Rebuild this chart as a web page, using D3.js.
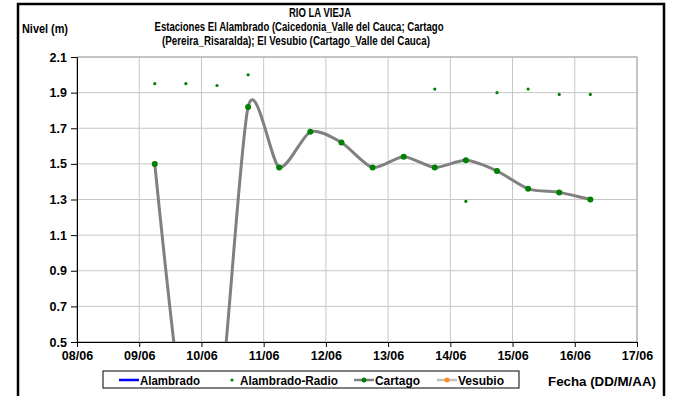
<!DOCTYPE html>
<html>
<head>
<meta charset="utf-8">
<script src="https://cdn.jsdelivr.net/npm/d3@7/dist/d3.min.js"></script>
<style>
  body { margin: 0; background: #fff; }
  text { font-family: "Liberation Sans", Arial, sans-serif; font-weight: bold; }
</style>
</head>
<body>
<script>
// datos (nivel en metros)
const fechasCartago = ['09/06 06', '09/06 18', '10/06 06', '10/06 18', '11/06 06', '11/06 18', '12/06 06', '12/06 18',
                       '13/06 06', '13/06 18', '14/06 06', '14/06 18', '15/06 06', '15/06 18', '16/06 06'];
const nivelCartago = [1.50, 0.0, 0.0, 1.82, 1.48, 1.68, 1.62, 1.48, 1.54, 1.48, 1.52, 1.46, 1.36, 1.34, 1.30];

const fechasRadio = ['09/06 06', '09/06 18', '10/06 06', '10/06 18', '13/06 18', '14/06 06', '14/06 18', '15/06 06', '15/06 18', '16/06 06'];
const nivelRadio = [1.95, 1.95, 1.94, 2.00, 1.92, 1.29, 1.90, 1.92, 1.89, 1.89];

// sin datos en el periodo
const fechasAlambrado = [];
const nivelAlambrado = [];
const fechasVesubio = [];
const nivelVesubio = [];

const yTicks = [0.5, 0.7, 0.9, 1.1, 1.3, 1.5, 1.7, 1.9, 2.1];
const xTicks = ['08/06', '09/06', '10/06', '11/06', '12/06', '13/06', '14/06', '15/06', '16/06', '17/06'];
const series = ['Alambrado', 'Alambrado-Radio', 'Cartago', 'Vesubio'];

const svgW = 677;
const svgH = 396;
const margin = { top: 57, right: 40, bottom: 54, left: 77 };
const w = svgW - margin.left - margin.right;
const h = svgH - margin.top - margin.bottom;

const parse = d3.timeParse('%d/%m %H');
const parseDay = d3.timeParse('%d/%m');

const svg = d3.select('body').append('svg')
  .attr('width', svgW)
  .attr('height', svgH);

// marco exterior
svg.append('rect')
  .attr('x', 18).attr('y', 4)
  .attr('width', 646).attr('height', 420)
  .attr('fill', 'none')
  .attr('stroke', '#000')
  .attr('stroke-width', 2.5);

const x = d3.scaleTime()
  .domain([parseDay(xTicks[0]), parseDay(xTicks[xTicks.length - 1])])
  .range([0, w]);
const y = d3.scaleLinear()
  .domain([yTicks[0], yTicks[yTicks.length - 1]])
  .range([h, 0]);

const g = svg.append('g')
  .attr('transform', `translate(${margin.left}, ${margin.top})`);

g.append('clipPath').attr('id', 'clip')
  .append('rect').attr('width', w).attr('height', h);

// rejilla
g.append('g')
  .selectAll('line')
  .data(xTicks.map(parseDay))
  .enter().append('line')
  .attr('x1', d => x(d)).attr('x2', d => x(d))
  .attr('y1', 0).attr('y2', h)
  .attr('stroke', '#c6c6c6');
g.append('g')
  .selectAll('line')
  .data(yTicks)
  .enter().append('line')
  .attr('x1', 0).attr('x2', w)
  .attr('y1', d => y(d)).attr('y2', d => y(d))
  .attr('stroke', '#c6c6c6');

g.append('rect')
  .attr('width', w).attr('height', h)
  .attr('fill', 'none')
  .attr('stroke', '#a6a6a6');

// ejes
const yAxis = d3.axisLeft(y)
  .tickValues(yTicks)
  .tickFormat(d3.format('.1f'))
  .tickSizeInner(6).tickSizeOuter(0).tickPadding(4);
const xAxis = d3.axisBottom(x)
  .tickValues(xTicks.map(parseDay))
  .tickFormat(d3.timeFormat('%d/%m'))
  .tickSizeInner(5).tickSizeOuter(0).tickPadding(4);

const ya = g.append('g').call(yAxis);
const xa = g.append('g').attr('transform', `translate(0, ${h})`).call(xAxis);
[ya, xa].forEach(a => {
  a.select('.domain').attr('stroke', '#000');
  a.selectAll('.tick line').attr('stroke', '#000');
  a.selectAll('text')
    .attr('fill', '#000')
    .style('font-family', '"Liberation Sans", Arial, sans-serif')
    .style('font-weight', 'bold')
    .style('font-size', '12.5px');
});

// series
const plot = g.append('g').attr('clip-path', 'url(#clip)');

const line = d3.line()
  .x(d => x(d[0]))
  .y(d => y(d[1]))
  .curve(d3.curveCardinal.tension(0.25));

const cartago = fechasCartago.map((f, i) => [parse(f), nivelCartago[i]]);
const radio = fechasRadio.map((f, i) => [parse(f), nivelRadio[i]]);
const alambrado = fechasAlambrado.map((f, i) => [parse(f), nivelAlambrado[i]]);
const vesubio = fechasVesubio.map((f, i) => [parse(f), nivelVesubio[i]]);

plot.append('path').datum(alambrado)
  .attr('d', line).attr('fill', 'none')
  .attr('stroke', '#0000ff').attr('stroke-width', 2.5);

plot.append('path').datum(cartago)
  .attr('d', line).attr('fill', 'none')
  .attr('stroke', '#808080').attr('stroke-width', 3);

plot.selectAll('.pc').data(cartago).enter()
  .append('circle')
  .attr('cx', d => x(d[0])).attr('cy', d => y(d[1]))
  .attr('r', 3).attr('fill', '#008000');

plot.selectAll('.pr').data(radio).enter()
  .append('circle')
  .attr('cx', d => x(d[0])).attr('cy', d => y(d[1]))
  .attr('r', 1.6).attr('fill', '#008000');

plot.append('path').datum(vesubio)
  .attr('d', line).attr('fill', 'none')
  .attr('stroke', '#c0c0c0').attr('stroke-width', 2.5);

// titulos
const titulo = svg.append('g').attr('fill', '#000').style('font-size', '12.5px');
titulo.append('text').attr('x', 320).attr('y', 17).attr('text-anchor', 'middle')
  .attr('textLength', 62).attr('lengthAdjust', 'spacingAndGlyphs')
  .text('RIO LA VIEJA');
titulo.append('text').attr('x', 299).attr('y', 31).attr('text-anchor', 'middle')
  .attr('textLength', 289).attr('lengthAdjust', 'spacingAndGlyphs')
  .text('Estaciones El Alambrado (Caicedonia_Valle del Cauca; Cartago');
titulo.append('text').attr('x', 296).attr('y', 45).attr('text-anchor', 'middle')
  .attr('textLength', 268).attr('lengthAdjust', 'spacingAndGlyphs')
  .text('(Pereira_Risaralda);  El Vesubio (Cartago_Valle del Cauca)');

svg.append('text').attr('x', 22).attr('y', 33)
  .style('font-size', '12px')
  .attr('textLength', 46).attr('lengthAdjust', 'spacingAndGlyphs')
  .text('Nivel (m)');

svg.append('text').attr('x', 548).attr('y', 386)
  .style('font-size', '12.5px')
  .attr('textLength', 108).attr('lengthAdjust', 'spacingAndGlyphs')
  .text('Fecha (DD/M/AA)');

// leyenda
const leg = svg.append('g');
leg.append('rect')
  .attr('x', 103).attr('y', 371)
  .attr('width', 416).attr('height', 17)
  .attr('fill', '#fff').attr('stroke', '#000');

const legX = [119, 222, 354, 437];
const legStroke = ['#0000ff', null, '#808080', '#c0c0c0'];
const legDot = [null, '#008000', '#008000', '#ff8c1a'];
const legR = [0, 1.6, 2.5, 2.5];
const legW = [60, 98, 45, 46];

series.forEach((s, i) => {
  const it = leg.append('g').attr('transform', `translate(${legX[i]}, 380)`);
  if (legStroke[i]) {
    it.append('line').attr('x1', 0).attr('x2', 20)
      .attr('stroke', legStroke[i]).attr('stroke-width', 2.5);
  }
  if (legDot[i]) {
    it.append('circle').attr('cx', 10).attr('r', legR[i]).attr('fill', legDot[i]);
  }
  it.append('text').attr('x', i === 1 ? 18 : 21).attr('y', 4.5)
    .style('font-size', '12px')
    .attr('textLength', legW[i]).attr('lengthAdjust', 'spacingAndGlyphs')
    .text(s);
});
</script>
</body>
</html>
